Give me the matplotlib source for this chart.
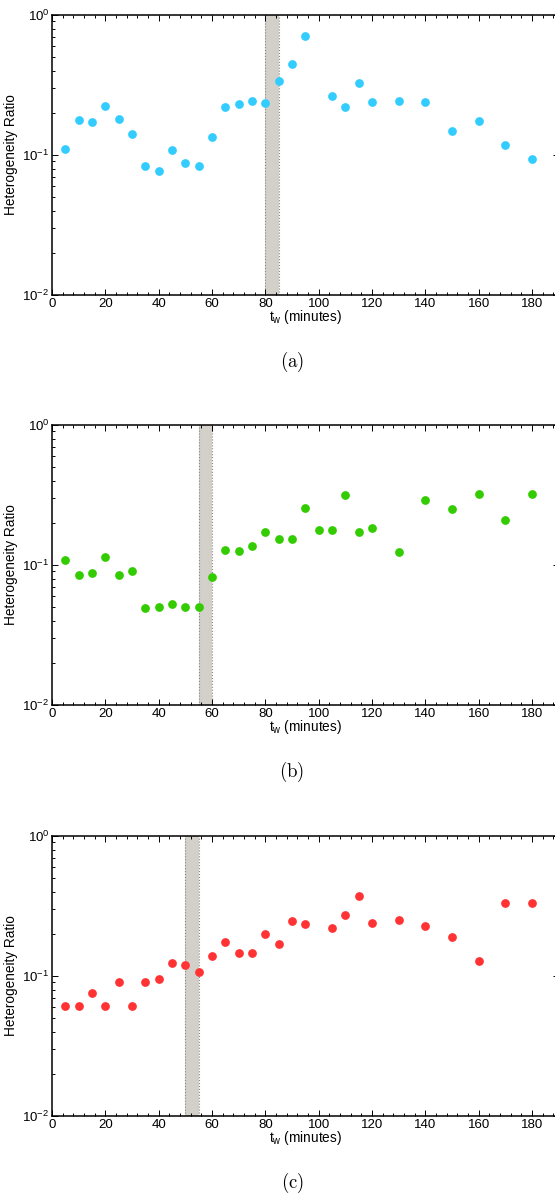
import matplotlib.pyplot as plt
import numpy as np
from matplotlib.ticker import MultipleLocator, LogLocator, NullFormatter

plt.rcParams['font.family'] = ['Liberation Sans', 'DejaVu Sans']
plt.rcParams['mathtext.fontset'] = 'custom'
plt.rcParams['mathtext.rm'] = 'Liberation Sans'
plt.rcParams['mathtext.it'] = 'Liberation Sans:italic'

# waiting times (minutes)
t_a = [5, 10, 15, 20, 25, 30, 35, 40, 45, 50, 55, 60, 65, 70, 75, 80, 85, 90, 95,
       105, 110, 115, 120, 130, 140, 150, 160, 170, 180]
ratio_a = [0.110, 0.177, 0.171, 0.225, 0.182, 0.141, 0.084, 0.077, 0.108, 0.088,
           0.084, 0.135, 0.220, 0.233, 0.243, 0.236, 0.340, 0.449, 0.704,
           0.262, 0.220, 0.325, 0.239, 0.243, 0.239, 0.148, 0.175, 0.117, 0.093]

t_b = [5, 10, 15, 20, 25, 30, 35, 40, 45, 50, 55, 60, 65, 70, 75, 80, 85, 90, 95,
       100, 105, 110, 115, 120, 130, 140, 150, 160, 170, 180]
ratio_b = [0.109, 0.085, 0.087, 0.115, 0.085, 0.091, 0.049, 0.050, 0.053, 0.050,
           0.050, 0.082, 0.127, 0.126, 0.137, 0.172, 0.153, 0.153, 0.254,
           0.177, 0.179, 0.315, 0.172, 0.185, 0.123, 0.291, 0.253, 0.322, 0.209, 0.322]

t_c = [5, 10, 15, 20, 25, 30, 35, 40, 45, 50, 55, 60, 65, 70, 75, 80, 85, 90, 95,
       105, 110, 115, 120, 130, 140, 150, 160, 170, 180]
ratio_c = [0.061, 0.061, 0.076, 0.061, 0.091, 0.061, 0.091, 0.095, 0.124, 0.119,
           0.107, 0.140, 0.176, 0.146, 0.146, 0.200, 0.169, 0.249, 0.234,
           0.220, 0.271, 0.373, 0.238, 0.250, 0.228, 0.191, 0.128, 0.332, 0.332]

bands = [(80, 85), (55, 60), (50, 55)]
colors = ['#33ccff', '#33cc00', '#ff3333']
captions = ['(a)', '(b)', '(c)']

fig = plt.figure(figsize=(5.55, 11.98), dpi=100)
W, H = 555, 1198
tops = [15, 425, 836]
left_px, right_px = 52, 558.7

panels = [(t_a, ratio_a), (t_b, ratio_b), (t_c, ratio_c)]
for i, (t, r) in enumerate(panels):
    top = tops[i]
    ax = fig.add_axes([left_px / W, 1 - (top + 280) / H, (right_px - left_px) / W, 280 / H])
    x0, x1 = bands[i]
    ax.axvspan(x0, x1, color='#d3cfc9', lw=0, zorder=1)
    for xv in (x0, x1):
        ax.axvline(xv, color='#888888', lw=0.8, ls=':', zorder=1.5)
    ax.plot(t, r, 'o', color=colors[i], markersize=6.3, markeredgewidth=0, zorder=3)
    ax.set_yscale('log')
    ax.set_ylim(1e-2, 1)
    ax.set_xlim(0, 190)
    ax.xaxis.set_major_locator(MultipleLocator(20))
    ax.xaxis.set_minor_locator(MultipleLocator(4))
    ax.yaxis.set_major_locator(LogLocator(base=10, numticks=5))
    ax.yaxis.set_minor_locator(LogLocator(base=10, subs=np.arange(2, 10), numticks=12))
    ax.yaxis.set_minor_formatter(NullFormatter())
    ax.tick_params(which='both', direction='in', top=True, right=True, labelsize=9.5,
                   width=0.7, pad=2)
    ax.tick_params(which='major', length=4)
    ax.tick_params(which='minor', length=2)
    for s in ax.spines.values():
        s.set_linewidth(1.1)
    ax.set_xlabel('t$_\\mathrm{w}$ (minutes)', fontsize=9.8, labelpad=-1)
    ax.set_ylabel('Heterogeneity Ratio', fontsize=9.8, labelpad=3)
    fig.text(292 / W, 1 - (top + 347) / H, '$\\mathrm{' + captions[i] + '}$',
             ha='center', va='center', fontsize=13.5, math_fontfamily='cm')

fig.savefig('out.png', dpi=100)
